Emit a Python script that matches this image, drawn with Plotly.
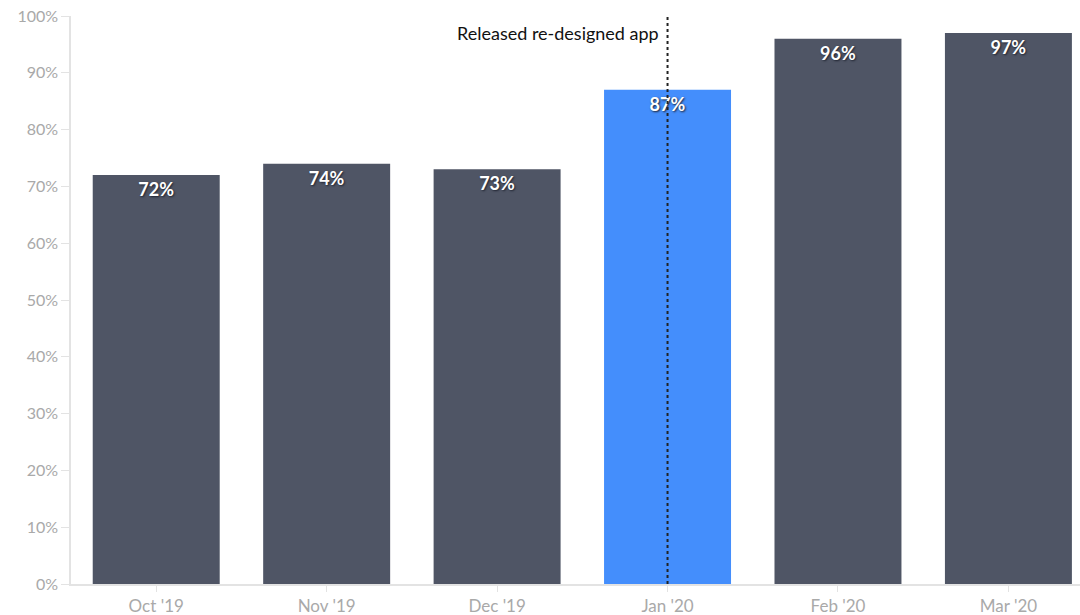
import plotly.graph_objects as go

# Monthly rate, Oct 2019 – Mar 2020
months = ["Oct '19", "Nov '19", "Dec '19", "Jan '20", "Feb '20", "Mar '20"]
rates = [72, 74, 73, 87, 96, 97]
highlight_month = "Jan '20"
event_label = "Released re-designed app"

DARK = "#4f5565"
BLUE = "#448efc"
AXIS = "#e3e3e3"
TICKTXT = "#a9a9a9"
FONT = "Lato, 'Open Sans', sans-serif"

colors = [BLUE if m == highlight_month else DARK for m in months]
labels = [f"{v}%" for v in rates]

fig = go.Figure()
fig.add_trace(go.Bar(
    x=months,
    y=rates,
    marker=dict(color=colors, line=dict(width=0)),
    text=labels,
    textposition="inside",
    insidetextanchor="end",
    constraintext="none",
    textfont=dict(family=FONT, size=18, color="white", weight="bold",
                  shadow="1px 1px 2px #1f2330"),
    hoverinfo="skip",
))

# Dotted marker for the release month
fig.add_shape(type="line", xref="x", yref="paper",
              x0=highlight_month, x1=highlight_month, y0=0, y1=1,
              line=dict(color="#222222", width=2, dash="dot"))
fig.add_annotation(xref="x", yref="paper", x=highlight_month, y=1,
                   text=event_label, showarrow=False,
                   xanchor="right", yanchor="top", xshift=-7, yshift=-4,
                   font=dict(family=FONT, size=18, color="#111111"))

fig.update_layout(
    width=1080, height=615,
    margin=dict(l=71, r=0, t=16, b=31),
    paper_bgcolor="white", plot_bgcolor="white",
    bargap=0.255,
    showlegend=False,
    font=dict(family=FONT),
)
fig.update_xaxes(
    range=[-0.5, 5.42],
    showline=True, linecolor=AXIS, linewidth=1.5,
    ticks="outside", ticklen=6, tickcolor=AXIS,
    tickfont=dict(family=FONT, size=17, color=TICKTXT),
    showgrid=False, zeroline=False,
)
fig.update_yaxes(
    range=[0, 100], dtick=10, ticksuffix="%",
    showline=True, linecolor=AXIS, linewidth=1.5,
    ticks="outside", ticklen=8, tickcolor=AXIS,
    tickfont=dict(family=FONT, size=16, color=TICKTXT),
    showgrid=False, zeroline=False,
)

fig.write_html("out.html")
